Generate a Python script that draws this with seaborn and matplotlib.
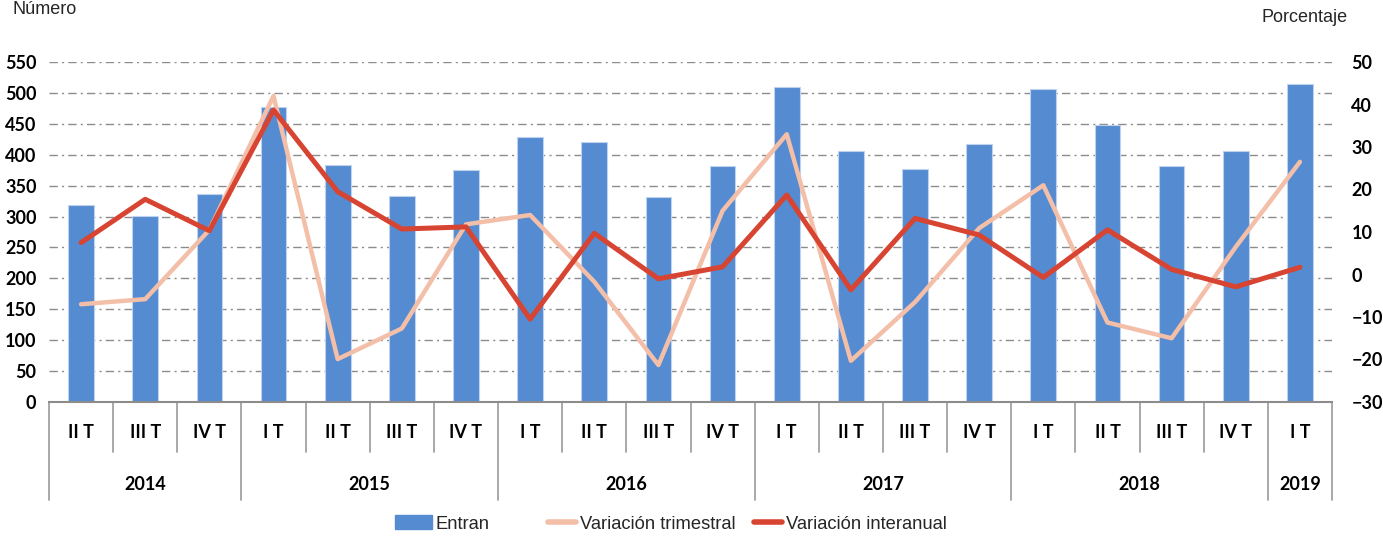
import matplotlib
matplotlib.use("Agg")
import matplotlib.pyplot as plt
import matplotlib.transforms as mtransforms
from matplotlib.patches import Patch
from matplotlib.lines import Line2D
import seaborn as sns
import pandas as pd
import numpy as np

quarters = ["II T", "III T", "IV T",
            "I T", "II T", "III T", "IV T",
            "I T", "II T", "III T", "IV T",
            "I T", "II T", "III T", "IV T",
            "I T", "II T", "III T", "IV T",
            "I T"]
years = ["2014", "2015", "2016", "2017", "2018", "2019"]
year_counts = [3, 4, 4, 4, 4, 1]

entran = [319, 301, 336, 477, 383, 334, 375, 428, 421, 332, 382, 509,
          406, 377, 418, 506, 448, 382, 406, 515]
var_trimestral = [-7.0, -5.8, 10.5, 42.0, -19.9, -12.7, 11.8, 14.0, -1.7, -21.3,
                  15.0, 33.0, -20.3, -6.5, 10.9, 21.0, -11.3, -15.0, 6.5, 26.5]
var_interanual = [7.5, 17.7, 10.3, 38.7, 19.5, 10.7, 11.2, -10.5, 9.7, -1.0,
                  1.8, 18.7, -3.6, 13.2, 9.3, -0.7, 10.5, 1.2, -2.9, 1.7]

BLUE = "#558BD0"
PINK = "#F4BFA8"
RED = "#D84432"
GRID = "#8C8C8C"

sns.set_theme(style="white")
plt.rcParams["font.family"] = ["Liberation Sans", "DejaVu Sans"]

TICKFONT = dict(family=["Lato", "DejaVu Sans"], weight="bold", size=13)

n = len(entran)
df = pd.DataFrame({"pos": np.arange(n), "entran": entran,
                   "trim": var_trimestral, "inter": var_interanual})

fig = plt.figure(figsize=(13.83, 5.42), dpi=100)
ax = fig.add_axes([49/1383, 1-402/542, (1332-49)/1383, 340/542])

sns.barplot(data=df, x="pos", y="entran", color=BLUE, width=0.4,
            edgecolor="#BFD3EE", linewidth=0.8, saturation=1, ax=ax, zorder=2)
ax.set_ylim(0, 550)
ax.set_xlim(-0.5, n - 0.5)
ax.set_yticks(np.arange(0, 551, 50))
ax.yaxis.grid(True, color=GRID, linestyle=(0, (6, 3, 1.5, 3)), linewidth=1.0, zorder=0)
ax.set_axisbelow(True)
ax.set_xlabel("")
ax.set_ylabel("")
ax.set_xticks([])
for s in ["left", "right", "top"]:
    ax.spines[s].set_visible(False)
ax.spines["bottom"].set_color("#8C8C8C")
ax.spines["bottom"].set_linewidth(1.5)
ax.tick_params(axis="y", length=0, pad=9, labelcolor="black")
for lbl in ax.get_yticklabels():
    lbl.set_fontproperties(TICKFONT)

ax2 = ax.twinx()
sns.lineplot(data=df, x="pos", y="trim", color=PINK, linewidth=3.2, ax=ax2, zorder=3)
sns.lineplot(data=df, x="pos", y="inter", color=RED, linewidth=3.6, ax=ax2, zorder=4)
ax2.set_ylim(-30, 50)
ax2.set_yticks(np.arange(-30, 51, 10))
ax2.set_xlim(-0.5, n - 0.5)
ax2.set_xlabel("")
ax2.set_ylabel("")
for s in ["left", "right", "top", "bottom"]:
    ax2.spines[s].set_visible(False)
ax2.tick_params(axis="y", length=0, pad=14, labelcolor="black")
for lbl in ax2.get_yticklabels():
    lbl.set_fontproperties(TICKFONT)
    lbl.set_horizontalalignment("left")

# Multi-level category axis
trans = mtransforms.blended_transform_factory(ax.transData, ax.transAxes)
q_bottom = -50/340
y_bottom = -98/340
for i, q in enumerate(quarters):
    ax.text(i, -30/340, q, transform=trans, ha="center", va="center",
            color="black", **TICKFONT)
year_bounds = np.cumsum([0] + year_counts) - 0.5
for i in range(n + 1):
    b = i - 0.5
    if b in year_bounds:
        ax.plot([b, b], [0, y_bottom], transform=trans, color="#9A9A9A",
                linewidth=1.2, clip_on=False)
    else:
        ax.plot([b, b], [0, q_bottom], transform=trans, color="#9A9A9A",
                linewidth=1.2, clip_on=False)
for k, yr in enumerate(years):
    c = (year_bounds[k] + year_bounds[k + 1]) / 2
    ax.text(c, -82/340, yr, transform=trans, ha="center", va="center",
            color="black", **TICKFONT)

fig.text(12/1383, 1-1/542, "Número", ha="left", va="top", fontsize=13)
fig.text(1348/1383, 1-18/542, "Porcentaje", ha="right", va="center", fontsize=13)

legend_items = [
    (Patch(facecolor=BLUE, edgecolor=BLUE, label="Entran"), 395, 2.0),
    (Line2D([0], [0], color=PINK, linewidth=4, label="Variación trimestral"), 548, 1.55),
    (Line2D([0], [0], color=RED, linewidth=4, label="Variación interanual"), 754, 1.55),
]
for h, xpx, hl in legend_items:
    fig.legend(handles=[h], loc="center left", bbox_to_anchor=(xpx/1383, 1-524/542),
               frameon=False, fontsize=13.2, handlelength=hl, handleheight=0.75,
               handletextpad=0.2, borderpad=0, borderaxespad=0)

fig.savefig("out.png", dpi=100)
